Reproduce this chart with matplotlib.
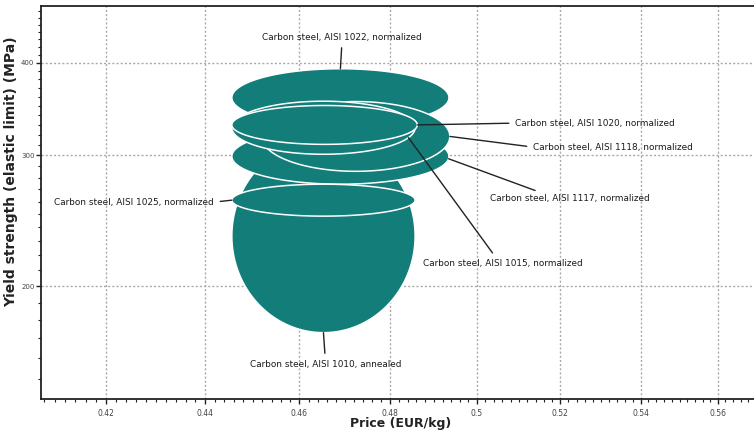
import numpy as np
import matplotlib
matplotlib.use("Agg")
import matplotlib.pyplot as plt
from matplotlib.ticker import FixedLocator, NullFormatter, FuncFormatter

# ---- data (ranges) ----
materials = [
    "Carbon steel, AISI 1010, annealed",
    "Carbon steel, AISI 1022, normalized",
    "Carbon steel, AISI 1117, normalized",
    "Carbon steel, AISI 1118, normalized",
    "Carbon steel, AISI 1015, normalized",
    "Carbon steel, AISI 1020, normalized",
    "Carbon steel, AISI 1025, normalized",
]
price_low = [0.4456, 0.4456, 0.4456, 0.4519, 0.4456, 0.4456, 0.4456]
price_high = [0.4857, 0.4935, 0.4935, 0.4937, 0.4857, 0.4862, 0.4857]
yield_low = [173.1, 328.2, 274.4, 285.6, 301.1, 310.5, 248.5]
yield_high = [315.3, 392.6, 326.2, 354.6, 355.0, 350.3, 274.4]

x_major = [0.42, 0.44, 0.46, 0.48, 0.50, 0.52, 0.54, 0.56]
x_major_labels = ["0.42", "0.44", "0.46", "0.48", "0.5", "0.52", "0.54", "0.56"]
y_major = [200, 300, 400]
y_major_labels = ["200", "300", "400"]

# label layout: (anchor angle on ellipse, text x, text y in axes fraction, ha, relpos)
label_layout = {
    "Carbon steel, AISI 1022, normalized": (90, 0.4224, 0.921, "center", (0.5, 0.0)),
    "Carbon steel, AISI 1020, normalized": (0, 0.665, 0.702, "left", (0.0, 0.5)),
    "Carbon steel, AISI 1118, normalized": (0, 0.690, 0.6387, "left", (0.0, 0.6)),
    "Carbon steel, AISI 1117, normalized": (-5, 0.630, 0.509, "left", (0.35, 1.0)),
    "Carbon steel, AISI 1025, normalized": (180, 0.243, 0.501, "right", (1.0, 0.5)),
    "Carbon steel, AISI 1015, normalized": (-22, 0.6481, 0.346, "center", (0.46, 1.0)),
    "Carbon steel, AISI 1010, annealed": (-90, 0.399, 0.089, "center", (0.5, 1.0)),
}

TEAL = "#127d79"

fig = plt.figure(figsize=(7.54, 4.34), dpi=100)
ax = fig.add_axes([40.7 / 754, 1 - 399 / 434, 1 - 40.7 / 754, (399 - 6) / 434])
ax.set_xscale("log")
ax.set_yscale("log")
ax.set_xlim(0.4073, 0.5696)
ax.set_ylim(140.9, 477.0)


def ellipse_pts(i, n=200):
    cx = (np.log10(price_low[i]) + np.log10(price_high[i])) / 2
    rx = (np.log10(price_high[i]) - np.log10(price_low[i])) / 2
    cy = (np.log10(yield_low[i]) + np.log10(yield_high[i])) / 2
    ry = (np.log10(yield_high[i]) - np.log10(yield_low[i])) / 2
    t = np.linspace(0, 2 * np.pi, n)
    return 10 ** (cx + rx * np.cos(t)), 10 ** (cy + ry * np.sin(t)), (cx, rx, cy, ry)


for i, name in enumerate(materials):
    xs, ys, _ = ellipse_pts(i)
    ax.fill(xs, ys, facecolor=TEAL, edgecolor="white", linewidth=1.1, zorder=3 + i)

for i, name in enumerate(materials):
    _, _, (cx, rx, cy, ry) = ellipse_pts(i)
    ang, tx, ty, ha, relpos = label_layout[name]
    th = np.deg2rad(ang)
    px = 10 ** (cx + rx * np.cos(th))
    py = 10 ** (cy + ry * np.sin(th))
    ax.annotate(name, xy=(px, py), xycoords="data",
                xytext=(tx, ty), textcoords="axes fraction",
                ha=ha, va="center", fontsize=6.4, color="#1a1a1a",
                arrowprops=dict(arrowstyle="-", color="#222222", lw=1.0,
                                shrinkA=2.5, shrinkB=0, relpos=relpos),
                zorder=20)

# ticks
ax.xaxis.set_major_locator(FixedLocator(x_major))
ax.xaxis.set_major_formatter(FuncFormatter(lambda v, p: x_major_labels[x_major.index(min(x_major, key=lambda m: abs(m - v)))]))
ax.xaxis.set_minor_locator(FixedLocator(np.arange(0.408, 0.570, 0.002)))
ax.xaxis.set_minor_formatter(NullFormatter())
ax.yaxis.set_major_locator(FixedLocator(y_major))
ax.yaxis.set_major_formatter(FuncFormatter(lambda v, p: y_major_labels[y_major.index(min(y_major, key=lambda m: abs(m - v)))]))
ax.yaxis.set_minor_locator(FixedLocator(np.arange(150, 480, 10)))
ax.yaxis.set_minor_formatter(NullFormatter())

ax.tick_params(axis="both", which="major", direction="out", length=3.5, width=1,
               labelsize=5.5, labelcolor="#444444", color="#222222", pad=4)
ax.tick_params(axis="y", which="major", labelsize=5, pad=1)
ax.tick_params(axis="both", which="minor", direction="out", length=2, width=0.8, color="#222222")

ax.grid(True, which="major", linestyle=(0, (1.5, 1.5)), color="#aaaaaa", linewidth=1, zorder=0)
ax.set_axisbelow(True)

for s in ["left", "bottom", "top"]:
    ax.spines[s].set_linewidth(1.3)
    ax.spines[s].set_color("#222222")
ax.spines["right"].set_visible(False)

ax.set_xlabel("Price (EUR/kg)", fontsize=9, fontweight="bold", color="#222222")
ax.set_ylabel("Yield strength (elastic limit) (MPa)", fontsize=10, fontweight="bold", color="#222222")
ax.xaxis.set_label_coords(0.505, -0.046)
ax.yaxis.set_label_coords(-0.031, 0.578)

fig.savefig("out.png", dpi=100)
